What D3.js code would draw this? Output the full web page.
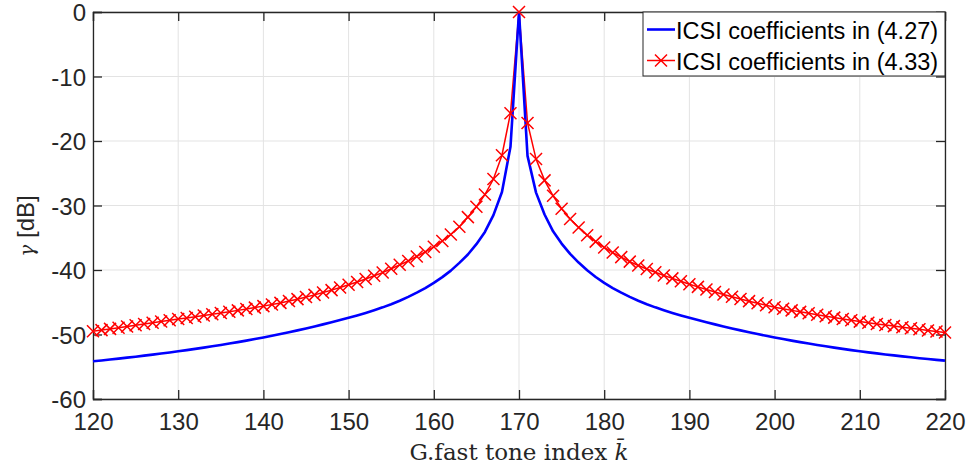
<!DOCTYPE html>
<html>
<head>
<meta charset="utf-8">
<script src="https://cdn.jsdelivr.net/npm/d3@7"></script>
<style>
  body { margin: 0; background: #fff; }
  text { font-family: "Liberation Sans", Arial, sans-serif; }
</style>
</head>
<body>
<div id="the_chart"></div>
<script>
// tone indices 120..220
var tones = d3.range(120, 221);

// ICSI coefficients in (4.27), one per tone (120..169, 170, 171..220)
var blueLeft = [-54.16, -54.02, -53.88, -53.74, -53.59, -53.44, -53.28, -53.12, -52.95, -52.78,
                -52.6, -52.42, -52.23, -52.03, -51.83, -51.62, -51.4, -51.18, -50.95, -50.71,
                -50.46, -50.2, -49.93, -49.65, -49.36, -49.06, -48.75, -48.43, -48.1, -47.76,
                -47.41, -47.05, -46.66, -46.24, -45.79, -45.3, -44.76, -44.17, -43.52, -42.8,
                -42.0, -41.1, -40.1, -38.9, -37.6, -36.0, -34.1, -31.5, -27.9, -20.9];
var bluePeak = [0];
var blueRight = [-22.3, -28.0, -31.4, -34.0, -35.9, -37.5, -38.85, -40.05, -41.08, -42.0,
                 -42.8, -43.52, -44.17, -44.76, -45.3, -45.79, -46.24, -46.66, -47.05, -47.41,
                 -47.76, -48.1, -48.43, -48.75, -49.06, -49.36, -49.65, -49.93, -50.2, -50.46,
                 -50.71, -50.95, -51.18, -51.4, -51.62, -51.83, -52.03, -52.23, -52.42, -52.6,
                 -52.77, -52.93, -53.09, -53.24, -53.39, -53.53, -53.67, -53.8, -53.93, -54.05];

// ICSI coefficients in (4.33)
var redLeft = [-49.5, -49.32, -49.13, -48.94, -48.75, -48.56, -48.37, -48.18, -47.99, -47.8,
               -47.6, -47.43, -47.25, -47.06, -46.87, -46.67, -46.47, -46.26, -46.05, -45.83,
               -45.6, -45.36, -45.1, -44.82, -44.52, -44.2, -43.86, -43.5, -43.12, -42.72,
               -42.3, -41.85, -41.4, -40.9, -40.4, -39.8, -39.2, -38.6, -37.9, -37.2,
               -36.4, -35.5, -34.5, -33.3, -31.8, -30.2, -28.3, -25.9, -22.2, -15.7];
var redPeak = [0];
var redRight = [-17.2, -22.8, -26.1, -28.5, -30.5, -32.1, -33.4, -34.6, -35.6, -36.5,
                -37.3, -38.0, -38.7, -39.3, -39.85, -40.35, -40.85, -41.3, -41.75, -42.2,
                -42.62, -43.03, -43.42, -43.8, -44.16, -44.5, -44.83, -45.15, -45.47, -45.78,
                -46.02, -46.26, -46.49, -46.72, -46.94, -47.16, -47.38, -47.59, -47.8, -48.0,
                -48.18, -48.36, -48.53, -48.7, -48.87, -49.04, -49.2, -49.37, -49.53, -49.7];

var xTicks = d3.range(120, 221, 10);
var yTicks = d3.range(-60, 1, 10);
var legendLabels = ["ICSI coefficients in (4.27)", "ICSI coefficients in (4.33)"];

var blueVals = blueLeft.concat(bluePeak, blueRight);
var redVals = redLeft.concat(redPeak, redRight);
var blueData = tones.map(function(k, i) { return {k: k, v: blueVals[i]}; });
var redData = tones.map(function(k, i) { return {k: k, v: redVals[i]}; });

var w = 969, h = 468;
var pL = 93, pR = 945, pT = 12, pB = 399;

var svg = d3.select("#the_chart").append("svg")
    .attr("width", w)
    .attr("height", h);

var xscale = d3.scaleLinear().domain([120, 220]).range([pL, pR]);
var yscale = d3.scaleLinear().domain([-60, 0]).range([pB, pT]);

// grid
svg.append("g").selectAll("line")
    .data(xTicks).enter().append("line")
    .attr("x1", function(d) { return xscale(d); })
    .attr("x2", function(d) { return xscale(d); })
    .attr("y1", pT).attr("y2", pB)
    .attr("stroke", "#e3e3e3").attr("stroke-width", 1);
svg.append("g").selectAll("line")
    .data(yTicks).enter().append("line")
    .attr("y1", function(d) { return yscale(d); })
    .attr("y2", function(d) { return yscale(d); })
    .attr("x1", pL).attr("x2", pR)
    .attr("stroke", "#e3e3e3").attr("stroke-width", 1);

// axes, ticks inside, box on (plain hyphen like matlab)
var axisColor = "#262626";
var fmt = function(d) { return String(d); };
var xaxis = d3.axisBottom(xscale).tickValues(xTicks).tickSize(-9).tickPadding(14).tickFormat(fmt);
var yaxis = d3.axisLeft(yscale).tickValues(yTicks).tickSize(-9).tickPadding(7).tickFormat(fmt);

var gX = svg.append("g")
    .attr("transform", "translate(0," + pB + ")")
    .call(xaxis);
var gY = svg.append("g")
    .attr("transform", "translate(" + pL + ",0)")
    .call(yaxis);
var gX2 = svg.append("g")
    .attr("transform", "translate(0," + pT + ")")
    .call(d3.axisTop(xscale).tickValues(xTicks).tickSize(-9).tickFormat(""));
var gY2 = svg.append("g")
    .attr("transform", "translate(" + pR + ",0)")
    .call(d3.axisRight(yscale).tickValues(yTicks).tickSize(-9).tickFormat(""));

[gX, gY, gX2, gY2].forEach(function(g) {
    g.selectAll("path").attr("stroke", axisColor).attr("stroke-width", 1.3);
    g.selectAll("line").attr("stroke", axisColor).attr("stroke-width", 1.3);
    g.selectAll("text").attr("fill", axisColor)
        .style("font-family", "'Liberation Sans', Arial, sans-serif")
        .style("font-size", "24px");
});
gY.selectAll("text").attr("dy", "0.36em");

// lines
var line = d3.line()
    .x(function(d) { return xscale(d.k); })
    .y(function(d) { return yscale(d.v); });

svg.append("path")
    .datum(redData)
    .attr("d", line)
    .attr("fill", "none")
    .attr("stroke", "#ff0000")
    .attr("stroke-width", 1.5);

svg.append("path")
    .datum(blueData)
    .attr("d", line)
    .attr("fill", "none")
    .attr("stroke", "#0000ff")
    .attr("stroke-width", 2.6)
    .attr("stroke-linejoin", "round");

var m = 6;
var cross = "M" + (-m) + "," + (-m) + "L" + m + "," + m + "M" + (-m) + "," + m + "L" + m + "," + (-m);
svg.append("g").selectAll("path")
    .data(redData).enter().append("path")
    .attr("transform", function(d) { return "translate(" + xscale(d.k) + "," + yscale(d.v) + ")"; })
    .attr("d", cross)
    .attr("stroke", "#ff0000")
    .attr("stroke-width", 1.5)
    .attr("fill", "none");

// axis labels
var yl = svg.append("text")
    .attr("transform", "translate(34,226) rotate(-90)")
    .attr("text-anchor", "middle")
    .attr("fill", axisColor)
    .style("font-size", "24px");
yl.append("tspan").style("font-family", "'DejaVu Serif', serif").style("font-style", "italic")
    .style("font-size", "20px").text("γ");
yl.append("tspan").text(" [dB]");

var xl = svg.append("text")
    .attr("x", 519)
    .attr("y", 460)
    .attr("text-anchor", "middle")
    .attr("fill", axisColor)
    .style("font-family", "'DejaVu Serif', serif")
    .style("font-size", "23px");
xl.append("tspan").text("G.fast tone index ");
xl.append("tspan").style("font-style", "italic").text("k̄");

// legend
var lx = 643, ly = 12, lw = pR - lx, lh = 64;
var lg = svg.append("g");
lg.append("rect")
    .attr("x", lx).attr("y", ly).attr("width", lw).attr("height", lh)
    .attr("fill", "#fff").attr("stroke", axisColor).attr("stroke-width", 1);
var colors = ["#0000ff", "#ff0000"];
legendLabels.forEach(function(t, i) {
    var cy = ly + 17.5 + i * 31;
    lg.append("line")
        .attr("x1", lx + 4).attr("x2", lx + 32)
        .attr("y1", cy).attr("y2", cy)
        .attr("stroke", colors[i]).attr("stroke-width", i == 0 ? 2.6 : 1.5);
    if (i == 1) {
        lg.append("path")
            .attr("transform", "translate(" + (lx + 18) + "," + cy + ")")
            .attr("d", cross)
            .attr("stroke", colors[i]).attr("stroke-width", 1.5);
    }
    lg.append("text")
        .attr("x", lx + 33).attr("y", cy + 9)
        .attr("fill", "#000")
        .style("font-size", "23.5px")
        .text(t);
});
</script>
</body>
</html>
